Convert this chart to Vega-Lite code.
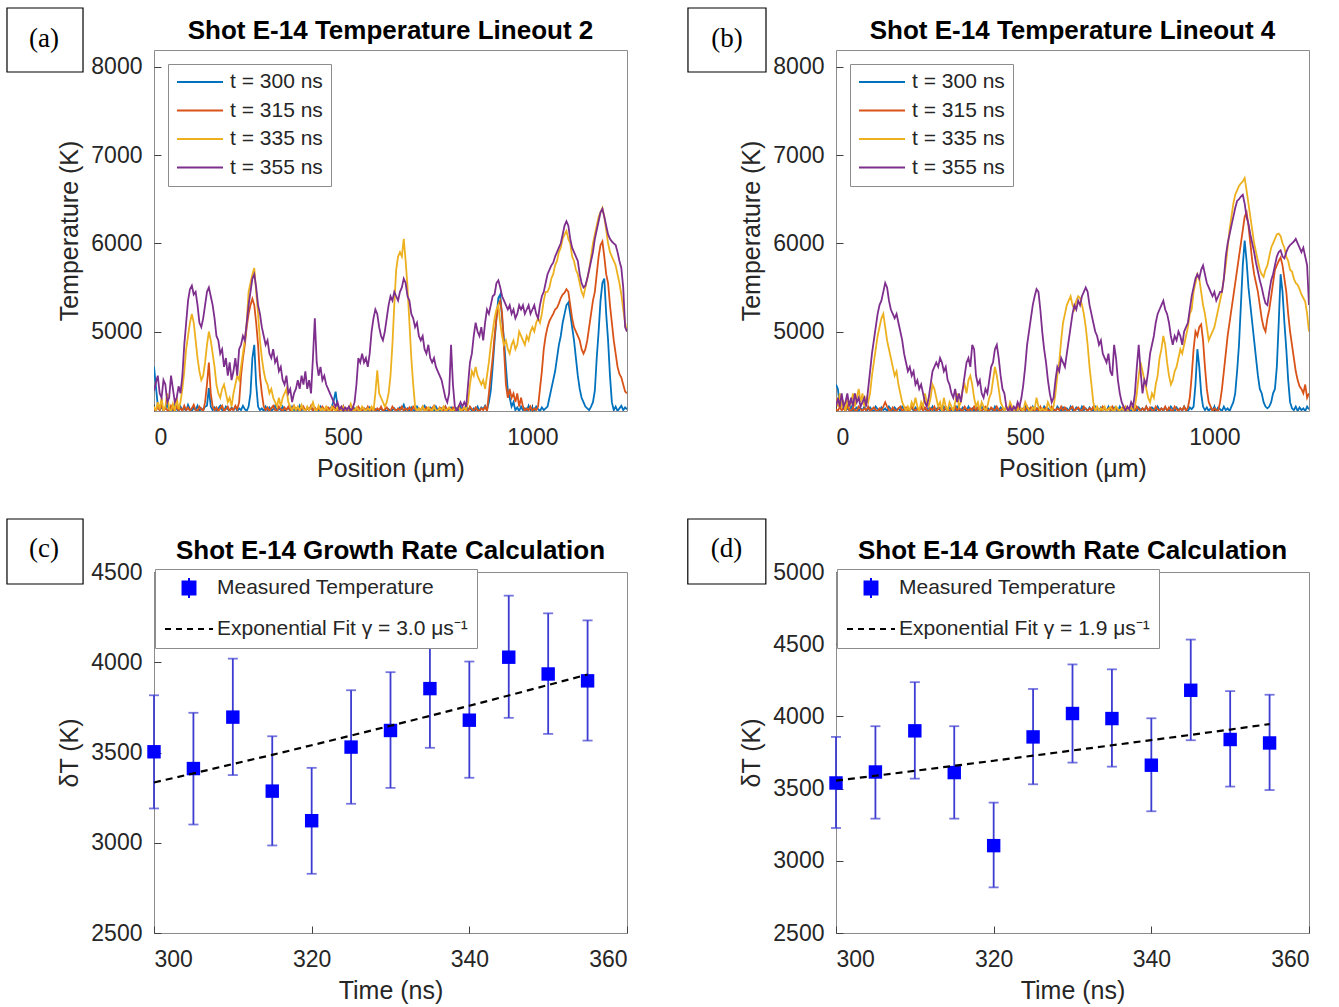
{
"$schema":"https://vega.github.io/schema/vega-lite/v6.json",
"padding":{"left":5,"top":6,"right":5,"bottom":5},
"background":"#ffffff",
"columns":2,
"spacing":{"row":161,"column":209},
"bounds":"flush",
"resolve":{"scale":{"color":"independent"},"legend":{"color":"independent"}},
"config":{
"view":{"stroke":"#8c8c8c","strokeWidth":1},
"font":"Liberation Sans",
"axis":{"labelFont":"Liberation Sans","labelFontSize":23,"labelColor":"#262626","titleFont":"Liberation Sans","titleFontSize":25,"titleFontWeight":"normal","titleColor":"#262626","tickColor":"#404040","tickSize":-7,"tickWidth":1,"domain":false,"grid":false},
"axisX":{"labelPadding":22,"titlePadding":7},
"axisY":{"labelPadding":19,"titlePadding":8},
"title":{"font":"Liberation Sans","fontSize":26,"fontWeight":"bold","color":"#000000","anchor":"middle","frame":"group"},
"legend":{"labelFont":"Liberation Sans","labelFontSize":21,"labelColor":"#262626","fillColor":"#ffffff","strokeColor":"#8c8c8c","labelLimit":500}
},
"concat":[
{
"width":473,"height":361,
"title":{"text":"Shot E-14 Temperature Lineout 2","offset":-37},
"data":{"values":[
{"x":0,"a":4600,"b":4130,"c":4150,"d":4330},{"x":5,"a":4380,"b":4100,"c":4100,"d":4420},{"x":10,"a":4160,"b":4150,"c":4200,"d":4500},{"x":15,"a":4110,"b":4110,"c":4120,"d":4300},{"x":20,"a":4150,"b":4170,"c":4250,"d":4250},{"x":25,"a":4100,"b":4100,"c":4100,"d":4450},{"x":30,"a":4130,"b":4140,"c":4150,"d":4400},{"x":35,"a":4170,"b":4110,"c":4300,"d":4200},{"x":40,"a":4110,"b":4100,"c":4120,"d":4250},{"x":45,"a":4140,"b":4160,"c":4100,"d":4500},
{"x":50,"a":4100,"b":4120,"c":4180,"d":4350},{"x":55,"a":4160,"b":4100,"c":4100,"d":4200},{"x":60,"a":4120,"b":4150,"c":4250,"d":4250},{"x":65,"a":4100,"b":4110,"c":4120,"d":4380},{"x":70,"a":4150,"b":4130,"c":4200,"d":4300},{"x":75,"a":4110,"b":4100,"c":4350,"d":4500},{"x":80,"a":4130,"b":4160,"c":4550,"d":4850},{"x":85,"a":4100,"b":4110,"c":4800,"d":5100},{"x":90,"a":4170,"b":4140,"c":4950,"d":5350},{"x":95,"a":4120,"b":4100,"c":5100,"d":5480},
{"x":100,"a":4100,"b":4130,"c":5200,"d":5520},{"x":105,"a":4140,"b":4170,"c":5100,"d":5420},{"x":110,"a":4110,"b":4110,"c":4900,"d":5450},{"x":115,"a":4160,"b":4100,"c":4700,"d":5300},{"x":120,"a":4100,"b":4150,"c":4550,"d":5100},{"x":125,"a":4130,"b":4120,"c":4450,"d":5050},{"x":130,"a":4110,"b":4100,"c":4500,"d":5150},{"x":135,"a":4150,"b":4200,"c":4650,"d":5300},{"x":140,"a":4160,"b":4400,"c":4850,"d":5450},{"x":145,"a":4360,"b":4650,"c":5000,"d":5500},
{"x":150,"a":4150,"b":4300,"c":4900,"d":5400},{"x":155,"a":4110,"b":4150,"c":4750,"d":5300},{"x":160,"a":4140,"b":4110,"c":4600,"d":5150},{"x":165,"a":4100,"b":4140,"c":4400,"d":4950},{"x":170,"a":4130,"b":4100,"c":4300,"d":4900},{"x":175,"a":4160,"b":4130,"c":4250,"d":4750},{"x":180,"a":4110,"b":4160,"c":4350,"d":4800},{"x":185,"a":4100,"b":4100,"c":4400,"d":4600},{"x":190,"a":4150,"b":4120,"c":4300,"d":4700},{"x":195,"a":4120,"b":4150,"c":4200,"d":4500},
{"x":200,"a":4100,"b":4100,"c":4250,"d":4650},{"x":205,"a":4140,"b":4130,"c":4150,"d":4450},{"x":210,"a":4110,"b":4110,"c":4300,"d":4550},{"x":215,"a":4150,"b":4160,"c":4400,"d":4700},{"x":220,"a":4100,"b":4120,"c":4500,"d":4500},{"x":225,"a":4130,"b":4200,"c":4450,"d":4800},{"x":230,"a":4110,"b":4500,"c":4600,"d":4850},{"x":235,"a":4160,"b":4700,"c":4750,"d":4950},{"x":240,"a":4120,"b":4850,"c":4900,"d":4900},{"x":245,"a":4100,"b":5050,"c":5100,"d":5100},
{"x":250,"a":4150,"b":5200,"c":5450,"d":5300},{"x":255,"a":4300,"b":5300,"c":5550,"d":5450},{"x":260,"a":4700,"b":5370,"c":5650,"d":5600},{"x":265,"a":4850,"b":5300,"c":5720,"d":5650},{"x":270,"a":4400,"b":5100,"c":5450,"d":5500},{"x":275,"a":4150,"b":4850,"c":5200,"d":5300},{"x":280,"a":4110,"b":4500,"c":4900,"d":5200},{"x":285,"a":4130,"b":4300,"c":4700,"d":5050},{"x":290,"a":4100,"b":4150,"c":4550,"d":4950},{"x":295,"a":4150,"b":4110,"c":4450,"d":4850},
{"x":300,"a":4110,"b":4140,"c":4400,"d":4900},{"x":305,"a":4140,"b":4100,"c":4300,"d":4750},{"x":310,"a":4100,"b":4130,"c":4350,"d":4700},{"x":315,"a":4120,"b":4160,"c":4250,"d":4800},{"x":320,"a":4160,"b":4110,"c":4200,"d":4650},{"x":325,"a":4100,"b":4100,"c":4150,"d":4700},{"x":330,"a":4130,"b":4150,"c":4250,"d":4550},{"x":335,"a":4110,"b":4120,"c":4150,"d":4600},{"x":340,"a":4150,"b":4100,"c":4250,"d":4450},{"x":345,"a":4100,"b":4140,"c":4300,"d":4400},
{"x":350,"a":4120,"b":4110,"c":4350,"d":4500},{"x":355,"a":4140,"b":4150,"c":4200,"d":4300},{"x":360,"a":4100,"b":4100,"c":4150,"d":4350},{"x":365,"a":4150,"b":4130,"c":4100,"d":4200},{"x":370,"a":4110,"b":4160,"c":4160,"d":4300},{"x":375,"a":4130,"b":4110,"c":4110,"d":4350},{"x":380,"a":4100,"b":4140,"c":4150,"d":4450},{"x":385,"a":4160,"b":4100,"c":4100,"d":4350},{"x":390,"a":4110,"b":4120,"c":4170,"d":4500},{"x":395,"a":4120,"b":4150,"c":4120,"d":4400},
{"x":400,"a":4100,"b":4100,"c":4100,"d":4550},{"x":405,"a":4140,"b":4130,"c":4150,"d":4350},{"x":410,"a":4110,"b":4110,"c":4110,"d":4450},{"x":415,"a":4150,"b":4160,"c":4140,"d":4300},{"x":420,"a":4100,"b":4100,"c":4200,"d":4700},{"x":425,"a":4130,"b":4140,"c":4120,"d":5150},{"x":430,"a":4110,"b":4110,"c":4100,"d":4650},{"x":435,"a":4100,"b":4130,"c":4160,"d":4500},{"x":440,"a":4150,"b":4100,"c":4110,"d":4600},{"x":445,"a":4120,"b":4150,"c":4130,"d":4450},
{"x":450,"a":4100,"b":4120,"c":4100,"d":4500},{"x":455,"a":4140,"b":4100,"c":4150,"d":4400},{"x":460,"a":4110,"b":4140,"c":4110,"d":4350},{"x":465,"a":4130,"b":4110,"c":4100,"d":4300},{"x":470,"a":4150,"b":4100,"c":4150,"d":4250},{"x":475,"a":4220,"b":4150,"c":4120,"d":4200},{"x":480,"a":4320,"b":4120,"c":4100,"d":4150},{"x":485,"a":4150,"b":4100,"c":4140,"d":4200},{"x":490,"a":4110,"b":4130,"c":4110,"d":4120},{"x":495,"a":4100,"b":4110,"c":4100,"d":4150},
{"x":500,"a":4130,"b":4150,"c":4150,"d":4100},{"x":505,"a":4110,"b":4100,"c":4120,"d":4140},{"x":510,"a":4100,"b":4130,"c":4100,"d":4110},{"x":515,"a":4140,"b":4110,"c":4130,"d":4150},{"x":520,"a":4110,"b":4100,"c":4180,"d":4100},{"x":525,"a":4100,"b":4140,"c":4110,"d":4130},{"x":530,"a":4130,"b":4110,"c":4100,"d":4200},{"x":535,"a":4110,"b":4100,"c":4140,"d":4400},{"x":540,"a":4100,"b":4150,"c":4110,"d":4700},{"x":545,"a":4120,"b":4120,"c":4100,"d":4650},
{"x":550,"a":4100,"b":4100,"c":4150,"d":4750},{"x":555,"a":4130,"b":4130,"c":4120,"d":4650},{"x":560,"a":4110,"b":4110,"c":4100,"d":4700},{"x":565,"a":4100,"b":4150,"c":4130,"d":4600},{"x":570,"a":4140,"b":4100,"c":4110,"d":4750},{"x":575,"a":4110,"b":4120,"c":4150,"d":5000},{"x":580,"a":4100,"b":4140,"c":4100,"d":5150},{"x":585,"a":4120,"b":4100,"c":4300,"d":5250},{"x":590,"a":4100,"b":4130,"c":4560,"d":5200},{"x":595,"a":4110,"b":4110,"c":4300,"d":5050},
{"x":600,"a":4130,"b":4150,"c":4250,"d":4950},{"x":605,"a":4100,"b":4100,"c":4200,"d":4900},{"x":610,"a":4110,"b":4120,"c":4150,"d":5000},{"x":615,"a":4100,"b":4140,"c":4200,"d":5150},{"x":620,"a":4120,"b":4110,"c":4300,"d":5300},{"x":625,"a":4100,"b":4100,"c":4500,"d":5400},{"x":630,"a":4110,"b":4150,"c":4850,"d":5350},{"x":635,"a":4130,"b":4120,"c":5300,"d":5450},{"x":640,"a":4100,"b":4100,"c":5700,"d":5400},{"x":645,"a":4110,"b":4130,"c":5850,"d":5350},
{"x":650,"a":4140,"b":4110,"c":5900,"d":5450},{"x":655,"a":4120,"b":4150,"c":5850,"d":5500},{"x":660,"a":4170,"b":4100,"c":6050,"d":5600},{"x":665,"a":4110,"b":4130,"c":5800,"d":5550},{"x":670,"a":4130,"b":4110,"c":5500,"d":5400},{"x":675,"a":4100,"b":4140,"c":5100,"d":5350},{"x":680,"a":4140,"b":4100,"c":4700,"d":5200},{"x":685,"a":4110,"b":4150,"c":4400,"d":5150},{"x":690,"a":4100,"b":4120,"c":4150,"d":5050},{"x":695,"a":4150,"b":4100,"c":4100,"d":5100},
{"x":700,"a":4120,"b":4130,"c":4130,"d":4950},{"x":705,"a":4100,"b":4110,"c":4100,"d":4900},{"x":710,"a":4130,"b":4150,"c":4150,"d":4950},{"x":715,"a":4160,"b":4100,"c":4110,"d":4800},{"x":720,"a":4110,"b":4140,"c":4100,"d":4750},{"x":725,"a":4100,"b":4110,"c":4140,"d":4850},{"x":730,"a":4140,"b":4100,"c":4120,"d":4700},{"x":735,"a":4120,"b":4130,"c":4100,"d":4650},{"x":740,"a":4100,"b":4160,"c":4150,"d":4700},{"x":745,"a":4150,"b":4110,"c":4110,"d":4600},
{"x":750,"a":4110,"b":4100,"c":4100,"d":4550},{"x":755,"a":4100,"b":4140,"c":4130,"d":4500},{"x":760,"a":4130,"b":4120,"c":4110,"d":4450},{"x":765,"a":4110,"b":4100,"c":4150,"d":4350},{"x":770,"a":4150,"b":4150,"c":4100,"d":4250},{"x":775,"a":4100,"b":4110,"c":4120,"d":4200},{"x":780,"a":4120,"b":4130,"c":4140,"d":4300},{"x":785,"a":4140,"b":4100,"c":4110,"d":4850},{"x":790,"a":4110,"b":4140,"c":4100,"d":4400},{"x":795,"a":4100,"b":4110,"c":4130,"d":4150},
{"x":800,"a":4130,"b":4100,"c":4110,"d":4100},{"x":805,"a":4110,"b":4150,"c":4150,"d":4150},{"x":810,"a":4150,"b":4120,"c":4100,"d":4200},{"x":815,"a":4100,"b":4100,"c":4120,"d":4150},{"x":820,"a":4120,"b":4130,"c":4140,"d":4200},{"x":825,"a":4160,"b":4110,"c":4110,"d":4150},{"x":830,"a":4110,"b":4100,"c":4200,"d":4400},{"x":835,"a":4140,"b":4150,"c":4400,"d":4650},{"x":840,"a":4100,"b":4120,"c":4550,"d":4750},{"x":845,"a":4130,"b":4100,"c":4500,"d":4950},
{"x":850,"a":4110,"b":4140,"c":4600,"d":5100},{"x":855,"a":4150,"b":4110,"c":4500,"d":5000},{"x":860,"a":4100,"b":4100,"c":4450,"d":4950},{"x":865,"a":4140,"b":4130,"c":4400,"d":5050},{"x":870,"a":4120,"b":4110,"c":4450,"d":4900},{"x":875,"a":4160,"b":4150,"c":4350,"d":5100},{"x":880,"a":4110,"b":4100,"c":4500,"d":5250},{"x":885,"a":4200,"b":4300,"c":4650,"d":5200},{"x":890,"a":4330,"b":4500,"c":4850,"d":5300},{"x":895,"a":4600,"b":4700,"c":5000,"d":5400},
{"x":900,"a":4890,"b":4950,"c":5150,"d":5420},{"x":905,"a":5150,"b":5150,"c":5250,"d":5550},{"x":910,"a":5380,"b":5300,"c":5300,"d":5580},{"x":915,"a":5420,"b":5350,"c":5100,"d":5500},{"x":920,"a":5150,"b":5200,"c":4950,"d":5400},{"x":925,"a":4900,"b":4800,"c":4850,"d":5350},{"x":930,"a":4600,"b":4400,"c":4900,"d":5300},{"x":935,"a":4330,"b":4250,"c":4800,"d":5250},{"x":940,"a":4250,"b":4350,"c":4750,"d":5300},{"x":945,"a":4150,"b":4250,"c":4850,"d":5200},
{"x":950,"a":4200,"b":4300,"c":4900,"d":5250},{"x":955,"a":4110,"b":4200,"c":4800,"d":5150},{"x":960,"a":4140,"b":4300,"c":4850,"d":5200},{"x":965,"a":4100,"b":4150,"c":5000,"d":5300},{"x":970,"a":4150,"b":4250,"c":4950,"d":5250},{"x":975,"a":4110,"b":4150,"c":4900,"d":5300},{"x":980,"a":4130,"b":4100,"c":4850,"d":5200},{"x":985,"a":4100,"b":4130,"c":4950,"d":5250},{"x":990,"a":4160,"b":4110,"c":4900,"d":5300},{"x":995,"a":4110,"b":4150,"c":5000,"d":5200},
{"x":1000,"a":4140,"b":4100,"c":5050,"d":5250},{"x":1005,"a":4100,"b":4130,"c":5000,"d":5300},{"x":1010,"a":4150,"b":4110,"c":5100,"d":5200},{"x":1015,"a":4120,"b":4150,"c":5150,"d":5150},{"x":1020,"a":4100,"b":4350,"c":5100,"d":5300},{"x":1025,"a":4140,"b":4550,"c":5200,"d":5400},{"x":1030,"a":4110,"b":4800,"c":5350,"d":5450},{"x":1035,"a":4130,"b":4950,"c":5450,"d":5550},{"x":1040,"a":4150,"b":5050,"c":5450,"d":5650},{"x":1045,"a":4250,"b":5120,"c":5500,"d":5700},
{"x":1050,"a":4350,"b":5160,"c":5600,"d":5750},{"x":1055,"a":4450,"b":5200,"c":5650,"d":5780},{"x":1060,"a":4550,"b":5250,"c":5750,"d":5850},{"x":1065,"a":4700,"b":5270,"c":5800,"d":5900},{"x":1070,"a":4850,"b":5320,"c":5900,"d":5950},{"x":1075,"a":4950,"b":5380,"c":5950,"d":6000},{"x":1080,"a":5100,"b":5420,"c":6050,"d":6100},{"x":1085,"a":5200,"b":5440,"c":6100,"d":6200},{"x":1090,"a":5300,"b":5480,"c":6140,"d":6250},{"x":1095,"a":5330,"b":5450,"c":6050,"d":6200},
{"x":1100,"a":5200,"b":5300,"c":6000,"d":6050},{"x":1105,"a":5050,"b":5150,"c":5850,"d":5950},{"x":1110,"a":4900,"b":5050,"c":5800,"d":5900},{"x":1115,"a":4700,"b":5000,"c":5700,"d":5850},{"x":1120,"a":4500,"b":4950,"c":5650,"d":5800},{"x":1125,"a":4350,"b":4900,"c":5550,"d":5650},{"x":1130,"a":4250,"b":4800,"c":5450,"d":5550},{"x":1135,"a":4200,"b":4750,"c":5400,"d":5500},{"x":1140,"a":4150,"b":4800,"c":5500,"d":5520},{"x":1145,"a":4130,"b":4900,"c":5600,"d":5600},
{"x":1150,"a":4110,"b":5050,"c":5700,"d":5700},{"x":1155,"a":4150,"b":5200,"c":5850,"d":5800},{"x":1160,"a":4200,"b":5350,"c":6000,"d":5900},{"x":1165,"a":4330,"b":5450,"c":6100,"d":6050},{"x":1170,"a":4700,"b":5650,"c":6200,"d":6150},{"x":1175,"a":5000,"b":5850,"c":6300,"d":6250},{"x":1180,"a":5350,"b":5980,"c":6350,"d":6350},{"x":1185,"a":5550,"b":6020,"c":6400,"d":6390},{"x":1190,"a":5600,"b":5850,"c":6300,"d":6300},{"x":1195,"a":5200,"b":5650,"c":6150,"d":6200},
{"x":1200,"a":4900,"b":5550,"c":6000,"d":6100},{"x":1205,"a":4500,"b":5300,"c":5900,"d":6050},{"x":1210,"a":4200,"b":5100,"c":5850,"d":6020},{"x":1215,"a":4110,"b":4900,"c":5800,"d":6000},{"x":1220,"a":4150,"b":4750,"c":5750,"d":5980},{"x":1225,"a":4100,"b":4600,"c":5650,"d":5900},{"x":1230,"a":4130,"b":4520,"c":5550,"d":5800},{"x":1235,"a":4160,"b":4480,"c":5420,"d":5720},{"x":1240,"a":4110,"b":4400,"c":5250,"d":5500},{"x":1245,"a":4140,"b":4320,"c":5100,"d":5050},
{"x":1250,"a":4120,"b":4300,"c":5000,"d":5000}
]},
"layer":[
{"transform":[{"fold":["a","b","c","d"],"as":["s","T"]}],
"mark":{"type":"line","clip":true,"strokeWidth":1.8},
"encoding":{
"x":{"field":"x","type":"quantitative","scale":{"domain":[0,1250],"nice":false,"zero":false},"axis":{"title":"Position (μm)","values":[0,500,1000],"format":"d"}},
"y":{"field":"T","type":"quantitative","scale":{"domain":[4100,8190],"nice":false,"zero":false},"axis":{"title":"Temperature (K)","values":[5000,6000,7000,8000],"format":"d"}},
"color":{"field":"s","type":"nominal","scale":{"domain":["a","b","c","d"],"range":["#0072BD","#D95319","#EDB120","#7E2F8E"]},
"legend":{"title":null,"orient":"top-left","offset":14,"symbolType":"stroke","symbolSize":2116,"symbolStrokeWidth":2,"padding":8,"rowPadding":7.5,"clipHeight":20,"labelOffset":6,
"labelExpr":"datum.label == 'a' ? 't = 300 ns' : datum.label == 'b' ? 't = 315 ns' : datum.label == 'c' ? 't = 335 ns' : 't = 355 ns'"}}}},
{"data":{"values":[{"lab":"(a)"}]},"mark":{"type":"rect","fill":"#ffffff","stroke":"#000000","strokeWidth":1.2},
"encoding":{"x":{"datum":-388.5,"type":"quantitative"},"x2":{"datum":-187.6},"y":{"datum":8666,"type":"quantitative"},"y2":{"datum":7941}}},
{"data":{"values":[{"lab":"(a)"}]},"mark":{"type":"text","font":"Liberation Serif","fontSize":27,"color":"#000000"},
"encoding":{"x":{"datum":-290.7,"type":"quantitative"},"y":{"datum":8315,"type":"quantitative"},"text":{"field":"lab"}}}
]
},
{
"width":473,"height":361,
"title":{"text":"Shot E-14 Temperature Lineout 4","offset":-37},
"data":{"values":[
{"x":0,"a":4400,"b":4120,"c":4250,"d":4150},{"x":5,"a":4350,"b":4100,"c":4150,"d":4250},{"x":10,"a":4150,"b":4150,"c":4300,"d":4150},{"x":15,"a":4110,"b":4110,"c":4150,"d":4300},{"x":20,"a":4140,"b":4130,"c":4200,"d":4150},{"x":25,"a":4100,"b":4100,"c":4100,"d":4200},{"x":30,"a":4130,"b":4160,"c":4250,"d":4300},{"x":35,"a":4110,"b":4110,"c":4150,"d":4150},{"x":40,"a":4150,"b":4100,"c":4200,"d":4250},{"x":45,"a":4100,"b":4140,"c":4300,"d":4150},
{"x":50,"a":4120,"b":4110,"c":4150,"d":4300},{"x":55,"a":4140,"b":4100,"c":4250,"d":4200},{"x":60,"a":4100,"b":4150,"c":4350,"d":4250},{"x":65,"a":4130,"b":4120,"c":4200,"d":4150},{"x":70,"a":4110,"b":4100,"c":4300,"d":4200},{"x":75,"a":4150,"b":4130,"c":4150,"d":4250},{"x":80,"a":4100,"b":4110,"c":4250,"d":4150},{"x":85,"a":4120,"b":4150,"c":4200,"d":4350},{"x":90,"a":4140,"b":4100,"c":4300,"d":4550},{"x":95,"a":4110,"b":4120,"c":4500,"d":4750},
{"x":100,"a":4100,"b":4140,"c":4650,"d":4900},{"x":105,"a":4150,"b":4110,"c":4800,"d":5050},{"x":110,"a":4120,"b":4100,"c":4950,"d":5200},{"x":115,"a":4100,"b":4130,"c":5050,"d":5300},{"x":120,"a":4140,"b":4110,"c":5150,"d":5350},{"x":125,"a":4110,"b":4150,"c":5200,"d":5450},{"x":130,"a":4130,"b":4200,"c":5050,"d":5550},{"x":135,"a":4100,"b":4150,"c":4900,"d":5500},{"x":140,"a":4150,"b":4110,"c":4800,"d":5350},{"x":145,"a":4120,"b":4100,"c":4700,"d":5250},
{"x":150,"a":4100,"b":4140,"c":4600,"d":5200},{"x":155,"a":4140,"b":4110,"c":4500,"d":5150},{"x":160,"a":4110,"b":4100,"c":4550,"d":5200},{"x":165,"a":4130,"b":4130,"c":4400,"d":5100},{"x":170,"a":4100,"b":4150,"c":4300,"d":5000},{"x":175,"a":4150,"b":4100,"c":4200,"d":4900},{"x":180,"a":4120,"b":4120,"c":4150,"d":4750},{"x":185,"a":4100,"b":4140,"c":4100,"d":4650},{"x":190,"a":4130,"b":4110,"c":4150,"d":4550},{"x":195,"a":4110,"b":4100,"c":4100,"d":4600},
{"x":200,"a":4150,"b":4150,"c":4200,"d":4500},{"x":205,"a":4100,"b":4120,"c":4150,"d":4550},{"x":210,"a":4140,"b":4100,"c":4250,"d":4400},{"x":215,"a":4120,"b":4130,"c":4150,"d":4450},{"x":220,"a":4100,"b":4110,"c":4100,"d":4350},{"x":225,"a":4150,"b":4150,"c":4200,"d":4400},{"x":230,"a":4110,"b":4100,"c":4150,"d":4300},{"x":235,"a":4130,"b":4140,"c":4300,"d":4200},{"x":240,"a":4100,"b":4110,"c":4200,"d":4150},{"x":245,"a":4140,"b":4100,"c":4150,"d":4250},
{"x":250,"a":4110,"b":4130,"c":4250,"d":4400},{"x":255,"a":4150,"b":4110,"c":4400,"d":4550},{"x":260,"a":4100,"b":4150,"c":4350,"d":4600},{"x":265,"a":4120,"b":4100,"c":4250,"d":4650},{"x":270,"a":4140,"b":4120,"c":4150,"d":4600},{"x":275,"a":4110,"b":4140,"c":4200,"d":4700},{"x":280,"a":4100,"b":4110,"c":4100,"d":4650},{"x":285,"a":4150,"b":4100,"c":4250,"d":4550},{"x":290,"a":4120,"b":4150,"c":4150,"d":4600},{"x":295,"a":4100,"b":4120,"c":4100,"d":4450},
{"x":300,"a":4140,"b":4100,"c":4200,"d":4400},{"x":305,"a":4110,"b":4130,"c":4150,"d":4300},{"x":310,"a":4130,"b":4110,"c":4100,"d":4250},{"x":315,"a":4100,"b":4150,"c":4200,"d":4350},{"x":320,"a":4150,"b":4100,"c":4300,"d":4200},{"x":325,"a":4110,"b":4140,"c":4150,"d":4300},{"x":330,"a":4100,"b":4110,"c":4200,"d":4200},{"x":335,"a":4140,"b":4100,"c":4350,"d":4350},{"x":340,"a":4120,"b":4150,"c":4400,"d":4500},{"x":345,"a":4100,"b":4120,"c":4300,"d":4650},
{"x":350,"a":4150,"b":4100,"c":4450,"d":4700},{"x":355,"a":4110,"b":4130,"c":4500,"d":4600},{"x":360,"a":4130,"b":4110,"c":4400,"d":4850},{"x":365,"a":4100,"b":4150,"c":4250,"d":4800},{"x":370,"a":4140,"b":4100,"c":4150,"d":4500},{"x":375,"a":4110,"b":4140,"c":4200,"d":4400},{"x":380,"a":4100,"b":4110,"c":4100,"d":4450},{"x":385,"a":4150,"b":4100,"c":4200,"d":4300},{"x":390,"a":4120,"b":4130,"c":4150,"d":4250},{"x":395,"a":4100,"b":4150,"c":4100,"d":4350},
{"x":400,"a":4140,"b":4110,"c":4150,"d":4300},{"x":405,"a":4110,"b":4100,"c":4250,"d":4450},{"x":410,"a":4130,"b":4140,"c":4300,"d":4600},{"x":415,"a":4100,"b":4120,"c":4450,"d":4650},{"x":420,"a":4150,"b":4100,"c":4600,"d":4800},{"x":425,"a":4110,"b":4150,"c":4500,"d":4850},{"x":430,"a":4100,"b":4110,"c":4350,"d":4700},{"x":435,"a":4140,"b":4100,"c":4200,"d":4500},{"x":440,"a":4120,"b":4130,"c":4150,"d":4350},{"x":445,"a":4100,"b":4110,"c":4100,"d":4300},
{"x":450,"a":4150,"b":4150,"c":4150,"d":4150},{"x":455,"a":4110,"b":4100,"c":4100,"d":4100},{"x":460,"a":4130,"b":4120,"c":4200,"d":4150},{"x":465,"a":4100,"b":4140,"c":4150,"d":4100},{"x":470,"a":4140,"b":4110,"c":4100,"d":4150},{"x":475,"a":4110,"b":4100,"c":4130,"d":4120},{"x":480,"a":4100,"b":4150,"c":4110,"d":4200},{"x":485,"a":4150,"b":4120,"c":4150,"d":4150},{"x":490,"a":4120,"b":4100,"c":4120,"d":4250},{"x":495,"a":4100,"b":4130,"c":4100,"d":4400},
{"x":500,"a":4140,"b":4110,"c":4200,"d":4600},{"x":505,"a":4110,"b":4150,"c":4150,"d":4850},{"x":510,"a":4130,"b":4100,"c":4110,"d":5000},{"x":515,"a":4100,"b":4140,"c":4100,"d":5150},{"x":520,"a":4150,"b":4110,"c":4140,"d":5300},{"x":525,"a":4110,"b":4100,"c":4120,"d":5400},{"x":530,"a":4100,"b":4130,"c":4250,"d":5480},{"x":535,"a":4140,"b":4110,"c":4150,"d":5450},{"x":540,"a":4120,"b":4150,"c":4100,"d":5250},{"x":545,"a":4100,"b":4100,"c":4130,"d":5000},
{"x":550,"a":4150,"b":4120,"c":4110,"d":4800},{"x":555,"a":4110,"b":4140,"c":4100,"d":4650},{"x":560,"a":4130,"b":4110,"c":4200,"d":4450},{"x":565,"a":4100,"b":4100,"c":4150,"d":4300},{"x":570,"a":4140,"b":4150,"c":4100,"d":4200},{"x":575,"a":4110,"b":4120,"c":4150,"d":4250},{"x":580,"a":4100,"b":4100,"c":4300,"d":4450},{"x":585,"a":4150,"b":4130,"c":4500,"d":4600},{"x":590,"a":4120,"b":4110,"c":4650,"d":4550},{"x":595,"a":4100,"b":4150,"c":4900,"d":4700},
{"x":600,"a":4140,"b":4100,"c":5100,"d":4650},{"x":605,"a":4110,"b":4140,"c":5200,"d":4600},{"x":610,"a":4130,"b":4110,"c":5300,"d":4750},{"x":615,"a":4100,"b":4100,"c":5350,"d":4900},{"x":620,"a":4150,"b":4130,"c":5400,"d":5050},{"x":625,"a":4110,"b":4150,"c":5300,"d":5200},{"x":630,"a":4100,"b":4100,"c":5250,"d":5300},{"x":635,"a":4140,"b":4120,"c":5350,"d":5250},{"x":640,"a":4120,"b":4140,"c":5400,"d":5350},{"x":645,"a":4100,"b":4110,"c":5380,"d":5300},
{"x":650,"a":4150,"b":4100,"c":5300,"d":5400},{"x":655,"a":4110,"b":4150,"c":5200,"d":5450},{"x":660,"a":4130,"b":4120,"c":5050,"d":5500},{"x":665,"a":4100,"b":4100,"c":4850,"d":5450},{"x":670,"a":4140,"b":4130,"c":4600,"d":5300},{"x":675,"a":4110,"b":4110,"c":4400,"d":5200},{"x":680,"a":4100,"b":4150,"c":4200,"d":5100},{"x":685,"a":4150,"b":4100,"c":4100,"d":5000},{"x":690,"a":4120,"b":4140,"c":4150,"d":4950},{"x":695,"a":4100,"b":4110,"c":4100,"d":4850},
{"x":700,"a":4140,"b":4100,"c":4130,"d":4900},{"x":705,"a":4110,"b":4150,"c":4110,"d":4750},{"x":710,"a":4130,"b":4120,"c":4150,"d":4700},{"x":715,"a":4100,"b":4100,"c":4100,"d":4650},{"x":720,"a":4150,"b":4130,"c":4120,"d":4750},{"x":725,"a":4110,"b":4110,"c":4140,"d":4550},{"x":730,"a":4100,"b":4150,"c":4110,"d":4500},{"x":735,"a":4140,"b":4100,"c":4100,"d":4850},{"x":740,"a":4120,"b":4140,"c":4150,"d":4700},{"x":745,"a":4100,"b":4110,"c":4120,"d":4450},
{"x":750,"a":4150,"b":4100,"c":4100,"d":4300},{"x":755,"a":4110,"b":4130,"c":4130,"d":4200},{"x":760,"a":4130,"b":4150,"c":4110,"d":4150},{"x":765,"a":4100,"b":4110,"c":4150,"d":4100},{"x":770,"a":4140,"b":4100,"c":4100,"d":4150},{"x":775,"a":4110,"b":4120,"c":4120,"d":4120},{"x":780,"a":4100,"b":4140,"c":4140,"d":4200},{"x":785,"a":4150,"b":4110,"c":4110,"d":4150},{"x":790,"a":4120,"b":4100,"c":4150,"d":4300},{"x":795,"a":4100,"b":4150,"c":4300,"d":4600},
{"x":800,"a":4140,"b":4120,"c":4500,"d":4850},{"x":805,"a":4110,"b":4100,"c":4650,"d":4550},{"x":810,"a":4130,"b":4130,"c":4550,"d":4300},{"x":815,"a":4100,"b":4110,"c":4450,"d":4450},{"x":820,"a":4150,"b":4150,"c":4350,"d":4400},{"x":825,"a":4110,"b":4100,"c":4250,"d":4550},{"x":830,"a":4100,"b":4140,"c":4200,"d":4750},{"x":835,"a":4140,"b":4110,"c":4300,"d":4850},{"x":840,"a":4120,"b":4100,"c":4250,"d":4950},{"x":845,"a":4100,"b":4150,"c":4400,"d":5100},
{"x":850,"a":4150,"b":4120,"c":4500,"d":5200},{"x":855,"a":4110,"b":4100,"c":4700,"d":5250},{"x":860,"a":4130,"b":4130,"c":4800,"d":5300},{"x":865,"a":4100,"b":4110,"c":4950,"d":5350},{"x":870,"a":4140,"b":4150,"c":4850,"d":5250},{"x":875,"a":4110,"b":4100,"c":4650,"d":5200},{"x":880,"a":4100,"b":4140,"c":4500,"d":5100},{"x":885,"a":4150,"b":4110,"c":4400,"d":4950},{"x":890,"a":4120,"b":4100,"c":4450,"d":4850},{"x":895,"a":4100,"b":4150,"c":4550,"d":4950},
{"x":900,"a":4140,"b":4120,"c":4600,"d":4900},{"x":905,"a":4110,"b":4100,"c":4700,"d":5000},{"x":910,"a":4130,"b":4130,"c":4800,"d":4950},{"x":915,"a":4100,"b":4110,"c":4750,"d":4850},{"x":920,"a":4150,"b":4150,"c":4850,"d":5000},{"x":925,"a":4110,"b":4100,"c":4950,"d":5050},{"x":930,"a":4100,"b":4140,"c":5050,"d":5100},{"x":935,"a":4140,"b":4250,"c":5200,"d":5250},{"x":940,"a":4120,"b":4500,"c":5250,"d":5400},{"x":945,"a":4150,"b":4800,"c":5450,"d":5500},
{"x":950,"a":4400,"b":5000,"c":5550,"d":5600},{"x":955,"a":4800,"b":4950,"c":5650,"d":5650},{"x":960,"a":4600,"b":5050,"c":5600,"d":5600},{"x":965,"a":4300,"b":5080,"c":5450,"d":5700},{"x":970,"a":4150,"b":4900,"c":5300,"d":5750},{"x":975,"a":4110,"b":4600,"c":5200,"d":5650},{"x":980,"a":4140,"b":4350,"c":5050,"d":5550},{"x":985,"a":4100,"b":4200,"c":4900,"d":5500},{"x":990,"a":4130,"b":4150,"c":4950,"d":5450},{"x":995,"a":4110,"b":4100,"c":5000,"d":5400},
{"x":1000,"a":4150,"b":4130,"c":5050,"d":5450},{"x":1005,"a":4100,"b":4110,"c":5150,"d":5350},{"x":1010,"a":4140,"b":4100,"c":5250,"d":5400},{"x":1015,"a":4120,"b":4200,"c":5350,"d":5450},{"x":1020,"a":4100,"b":4350,"c":5450,"d":5450},{"x":1025,"a":4150,"b":4550,"c":5600,"d":5600},{"x":1030,"a":4110,"b":4750,"c":5750,"d":5850},{"x":1035,"a":4130,"b":4950,"c":5950,"d":6000},{"x":1040,"a":4100,"b":5100,"c":6150,"d":6100},{"x":1045,"a":4150,"b":5250,"c":6300,"d":6200},
{"x":1050,"a":4200,"b":5400,"c":6450,"d":6300},{"x":1055,"a":4300,"b":5550,"c":6550,"d":6400},{"x":1060,"a":4550,"b":5700,"c":6600,"d":6480},{"x":1065,"a":4850,"b":5850,"c":6650,"d":6500},{"x":1070,"a":5300,"b":6000,"c":6680,"d":6530},{"x":1075,"a":5750,"b":6150,"c":6700,"d":6550},{"x":1080,"a":6030,"b":6300,"c":6740,"d":6450},{"x":1085,"a":5800,"b":6350,"c":6600,"d":6300},{"x":1090,"a":5500,"b":6200,"c":6450,"d":6220},{"x":1095,"a":5300,"b":6000,"c":6300,"d":6100},
{"x":1100,"a":5100,"b":5800,"c":6150,"d":6000},{"x":1105,"a":4900,"b":5650,"c":6000,"d":5900},{"x":1110,"a":4700,"b":5550,"c":5900,"d":5780},{"x":1115,"a":4500,"b":5450,"c":5800,"d":5680},{"x":1120,"a":4350,"b":5300,"c":5700,"d":5580},{"x":1125,"a":4300,"b":5150,"c":5650,"d":5500},{"x":1130,"a":4200,"b":5050,"c":5620,"d":5400},{"x":1135,"a":4150,"b":5000,"c":5700,"d":5320},{"x":1140,"a":4130,"b":5150,"c":5750,"d":5300},{"x":1145,"a":4150,"b":5250,"c":5850,"d":5450},
{"x":1150,"a":4200,"b":5400,"c":5950,"d":5580},{"x":1155,"a":4300,"b":5550,"c":6000,"d":5650},{"x":1160,"a":4350,"b":5700,"c":6050,"d":5750},{"x":1165,"a":4600,"b":5750,"c":6100,"d":5850},{"x":1170,"a":5100,"b":5800,"c":6110,"d":5900},{"x":1175,"a":5650,"b":5840,"c":6080,"d":5920},{"x":1180,"a":5450,"b":5750,"c":6000,"d":5850},{"x":1185,"a":5100,"b":5600,"c":5950,"d":5830},{"x":1190,"a":4800,"b":5450,"c":5850,"d":5900},{"x":1195,"a":4450,"b":5200,"c":5800,"d":5950},
{"x":1200,"a":4200,"b":5000,"c":5700,"d":5980},{"x":1205,"a":4130,"b":4850,"c":5680,"d":6000},{"x":1210,"a":4110,"b":4700,"c":5600,"d":6020},{"x":1215,"a":4150,"b":4550,"c":5550,"d":6050},{"x":1220,"a":4100,"b":4450,"c":5530,"d":6000},{"x":1225,"a":4140,"b":4380,"c":5480,"d":5950},{"x":1230,"a":4110,"b":4350,"c":5420,"d":5900},{"x":1235,"a":4130,"b":4300,"c":5380,"d":5950},{"x":1240,"a":4100,"b":4400,"c":5340,"d":5850},{"x":1245,"a":4150,"b":4250,"c":5200,"d":5750},
{"x":1250,"a":4120,"b":4300,"c":5000,"d":5300}
]},
"layer":[
{"transform":[{"fold":["a","b","c","d"],"as":["s","T"]}],
"mark":{"type":"line","clip":true,"strokeWidth":1.8},
"encoding":{
"x":{"field":"x","type":"quantitative","scale":{"domain":[0,1250],"nice":false,"zero":false},"axis":{"title":"Position (μm)","values":[0,500,1000],"format":"d"}},
"y":{"field":"T","type":"quantitative","scale":{"domain":[4100,8190],"nice":false,"zero":false},"axis":{"title":"Temperature (K)","values":[5000,6000,7000,8000],"format":"d"}},
"color":{"field":"s","type":"nominal","scale":{"domain":["a","b","c","d"],"range":["#0072BD","#D95319","#EDB120","#7E2F8E"]},
"legend":{"title":null,"orient":"top-left","offset":14,"symbolType":"stroke","symbolSize":2116,"symbolStrokeWidth":2,"padding":8,"rowPadding":7.5,"clipHeight":20,"labelOffset":6,
"labelExpr":"datum.label == 'a' ? 't = 300 ns' : datum.label == 'b' ? 't = 315 ns' : datum.label == 'c' ? 't = 335 ns' : 't = 355 ns'"}}}},
{"data":{"values":[{"lab":"(b)"}]},"mark":{"type":"rect","fill":"#ffffff","stroke":"#000000","strokeWidth":1.2},
"encoding":{"x":{"datum":-391.2,"type":"quantitative"},"x2":{"datum":-185},"y":{"datum":8666,"type":"quantitative"},"y2":{"datum":7941}}},
{"data":{"values":[{"lab":"(b)"}]},"mark":{"type":"text","font":"Liberation Serif","fontSize":27,"color":"#000000"},
"encoding":{"x":{"datum":-288,"type":"quantitative"},"y":{"datum":8315,"type":"quantitative"},"text":{"field":"lab"}}}
]
},
{
"width":473,"height":361,
"title":{"text":"Shot E-14 Growth Rate Calculation","offset":-46},
"data":{"values":[
{"t":300,"T":3504,"lo":3190,"hi":3817,"fit":3334},{"t":305,"T":3411,"lo":3101,"hi":3720,"fit":3384},{"t":310,"T":3696,"lo":3375,"hi":4020,"fit":3436},{"t":315,"T":3286,"lo":2985,"hi":3590,"fit":3487},{"t":320,"T":3122,"lo":2828,"hi":3415,"fit":3540},{"t":325,"T":3530,"lo":3216,"hi":3845,"fit":3594},{"t":330,"T":3622,"lo":3304,"hi":3945,"fit":3648},{"t":335,"T":3854,"lo":3526,"hi":4180,"fit":3703},{"t":340,"T":3679,"lo":3360,"hi":4004,"fit":3759},{"t":345,"T":4028,"lo":3692,"hi":4369,"fit":3816},{"t":350,"T":3935,"lo":3603,"hi":4271,"fit":3874},{"t":355,"T":3897,"lo":3566,"hi":4232,"fit":3932}
]},
"layer":[
{"mark":{"type":"errorbar","ticks":true,"size":10,"thickness":1.8,"color":"#3c3cd2"},
"encoding":{"x":{"field":"t","type":"quantitative","scale":{"domain":[300,360],"nice":false,"zero":false},"axis":{"title":"Time (ns)","values":[300,320,340,360],"format":"d"}},
"y":{"field":"lo","type":"quantitative","scale":{"domain":[2500,4500],"nice":false,"zero":false},"axis":{"title":"δT (K)","values":[2500,3000,3500,4000,4500],"format":"d"}},
"y2":{"field":"hi"}}},
{"mark":{"type":"point","shape":"square","filled":true,"size":180,"opacity":1,"strokeWidth":0},
"encoding":{"x":{"field":"t","type":"quantitative"},"y":{"field":"T","type":"quantitative"},
"color":{"datum":"Measured Temperature","type":"nominal","scale":{"domain":["Measured Temperature","Exponential Fit γ = 3.0 μs⁻¹"],"range":["#0000ff","#000000"]},
"legend":{"title":null,"orient":"none","legendX":1,"legendY":-3,"padding":9,"rowPadding":20,"clipHeight":20,"labelOffset":3,"symbolSize":2304,
"encoding":{"symbols":{
"shape":{"value":{"expr":"datum.value === 'Measured Temperature' ? 'M-0.17,-0.52H0.17M0,-0.52V0.52M-0.17,0.52H0.17M-0.27,-0.27H0.27V0.27H-0.27Z' : 'stroke'"}},
"fill":{"value":{"expr":"datum.value === 'Measured Temperature' ? '#0000ff' : 'transparent'"}},
"stroke":{"value":{"expr":"datum.value === 'Measured Temperature' ? '#3c3cd2' : '#000000'"}},
"strokeDash":{"value":{"expr":"datum.value === 'Measured Temperature' ? [] : [6,5]"}},
"strokeWidth":{"value":2},"size":{"value":2304},"opacity":{"value":1}}}}}}},
{"mark":{"type":"line","strokeDash":[7,5],"strokeWidth":2.2},
"encoding":{"x":{"field":"t","type":"quantitative"},"y":{"field":"fit","type":"quantitative"},"color":{"datum":"Exponential Fit γ = 3.0 μs⁻¹","type":"nominal"}}},
{"data":{"values":[{"lab":"(c)"}]},"mark":{"type":"rect","fill":"#ffffff","stroke":"#000000","strokeWidth":1.2},
"encoding":{"x":{"datum":281.35,"type":"quantitative"},"x2":{"datum":291.0},"y":{"datum":4793.6,"type":"quantitative"},"y2":{"datum":4433.5}}},
{"data":{"values":[{"lab":"(c)"}]},"mark":{"type":"text","font":"Liberation Serif","fontSize":27,"color":"#000000"},
"encoding":{"x":{"datum":286.05,"type":"quantitative"},"y":{"datum":4627,"type":"quantitative"},"text":{"field":"lab"}}}
]
},
{
"width":473,"height":361,
"title":{"text":"Shot E-14 Growth Rate Calculation","offset":-46},
"data":{"values":[
{"t":300,"T":3539,"lo":3227,"hi":3858,"fit":3555},{"t":305,"T":3615,"lo":3292,"hi":3932,"fit":3589},{"t":310,"T":3900,"lo":3569,"hi":4237,"fit":3623},{"t":315,"T":3611,"lo":3292,"hi":3932,"fit":3658},{"t":320,"T":3105,"lo":2816,"hi":3403,"fit":3693},{"t":325,"T":3858,"lo":3530,"hi":4190,"fit":3728},{"t":330,"T":4020,"lo":3680,"hi":4360,"fit":3764},{"t":335,"T":3985,"lo":3652,"hi":4326,"fit":3800},{"t":340,"T":3662,"lo":3343,"hi":3987,"fit":3836},{"t":345,"T":4181,"lo":3835,"hi":4532,"fit":3872},{"t":350,"T":3840,"lo":3514,"hi":4175,"fit":3909},{"t":355,"T":3816,"lo":3490,"hi":4150,"fit":3947}
]},
"layer":[
{"mark":{"type":"errorbar","ticks":true,"size":10,"thickness":1.8,"color":"#3c3cd2"},
"encoding":{"x":{"field":"t","type":"quantitative","scale":{"domain":[300,360],"nice":false,"zero":false},"axis":{"title":"Time (ns)","values":[300,320,340,360],"format":"d"}},
"y":{"field":"lo","type":"quantitative","scale":{"domain":[2500,5000],"nice":false,"zero":false},"axis":{"title":"δT (K)","values":[2500,3000,3500,4000,4500,5000],"format":"d"}},
"y2":{"field":"hi"}}},
{"mark":{"type":"point","shape":"square","filled":true,"size":180,"opacity":1,"strokeWidth":0},
"encoding":{"x":{"field":"t","type":"quantitative"},"y":{"field":"T","type":"quantitative"},
"color":{"datum":"Measured Temperature","type":"nominal","scale":{"domain":["Measured Temperature","Exponential Fit γ = 1.9 μs⁻¹"],"range":["#0000ff","#000000"]},
"legend":{"title":null,"orient":"none","legendX":1,"legendY":-3,"padding":9,"rowPadding":20,"clipHeight":20,"labelOffset":3,"symbolSize":2304,
"encoding":{"symbols":{
"shape":{"value":{"expr":"datum.value === 'Measured Temperature' ? 'M-0.17,-0.52H0.17M0,-0.52V0.52M-0.17,0.52H0.17M-0.27,-0.27H0.27V0.27H-0.27Z' : 'stroke'"}},
"fill":{"value":{"expr":"datum.value === 'Measured Temperature' ? '#0000ff' : 'transparent'"}},
"stroke":{"value":{"expr":"datum.value === 'Measured Temperature' ? '#3c3cd2' : '#000000'"}},
"strokeDash":{"value":{"expr":"datum.value === 'Measured Temperature' ? [] : [6,5]"}},
"strokeWidth":{"value":2},"size":{"value":2304},"opacity":{"value":1}}}}}}},
{"mark":{"type":"line","strokeDash":[7,5],"strokeWidth":2.2},
"encoding":{"x":{"field":"t","type":"quantitative"},"y":{"field":"fit","type":"quantitative"},"color":{"datum":"Exponential Fit γ = 1.9 μs⁻¹","type":"nominal"}}},
{"data":{"values":[{"lab":"(d)"}]},"mark":{"type":"rect","fill":"#ffffff","stroke":"#000000","strokeWidth":1.2},
"encoding":{"x":{"datum":281.2,"type":"quantitative"},"x2":{"datum":291.1},"y":{"datum":5367,"type":"quantitative"},"y2":{"datum":4917}}},
{"data":{"values":[{"lab":"(d)"}]},"mark":{"type":"text","font":"Liberation Serif","fontSize":27,"color":"#000000"},
"encoding":{"x":{"datum":286.1,"type":"quantitative"},"y":{"datum":5159,"type":"quantitative"},"text":{"field":"lab"}}}
]
}
]
}
